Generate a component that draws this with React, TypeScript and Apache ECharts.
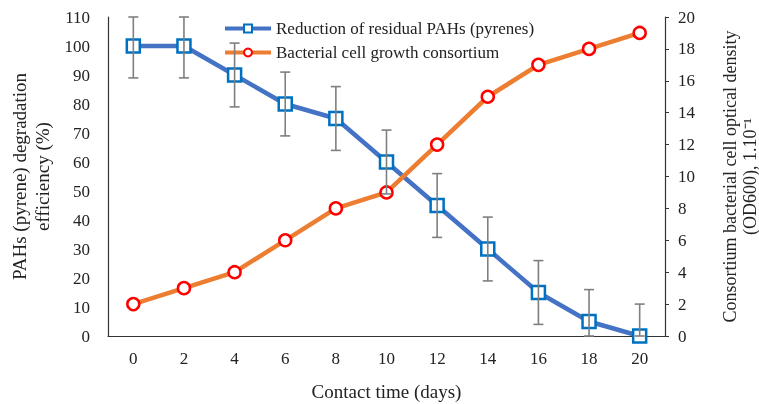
import React, { useEffect, useRef } from "react";
import * as echarts from "echarts";

const days = ["0", "2", "4", "6", "8", "10", "12", "14", "16", "18", "20"];
const residualPAHs = [100, 100, 90, 80, 75, 60, 45, 30, 15, 5, 0];
const pahError = [11, 11, 11, 11, 11, 11, 11, 11, 11, 11, 11];
const cellGrowth = [2, 3, 4, 6, 8, 9, 12, 15, 17, 18, 19];

const FONT = "'Liberation Serif', 'Times New Roman', serif";
const FS = 17;
const NFS = 19;

export default function App() {
  const ref = useRef<HTMLDivElement>(null);
  useEffect(() => {
    if (!ref.current) return;
    const chart = echarts.init(ref.current, undefined, { renderer: "svg" });
    const errData = residualPAHs.map((v, i) => [
      i,
      Math.max(0, v - pahError[i]),
      Math.min(110, v + pahError[i]),
    ]);
    chart.setOption({
      animation: false,
      textStyle: { fontFamily: FONT },
      grid: { left: 108, right: 94, top: 17, bottom: 68, outerBoundsMode: "none", containLabel: false },
      legend: {
        data: ["Reduction of residual PAHs (pyrenes)", "Bacterial cell growth consortium"],
        orient: "vertical",
        left: 223,
        top: 20,
        padding: 0,
        itemWidth: 46,
        itemHeight: 10,
        itemGap: 7,
        lineStyle: { width: 4 },
        textStyle: { fontFamily: FONT, fontSize: FS, color: "#222" },
      },
      xAxis: {
        type: "category",
        data: days,
        boundaryGap: true,
        name: "Contact time (days)",
        nameLocation: "middle",
        nameGap: 46,
        nameTextStyle: { fontFamily: FONT, fontSize: NFS, color: "#222" },
        axisLine: { lineStyle: { color: "#333", width: 1.2 } },
        axisTick: { show: false },
        axisLabel: { fontFamily: FONT, fontSize: FS, color: "#222", margin: 14 },
      },
      yAxis: [
        {
          type: "value",
          min: 0,
          max: 110,
          interval: 10,
          name: "PAHs (pyrene) degradation\nefficiency (%)",
          nameLocation: "middle",
          nameGap: 52,
          nameTextStyle: { fontFamily: FONT, fontSize: NFS, color: "#222", lineHeight: 23 },
          axisLine: { show: true, lineStyle: { color: "#333", width: 1.2 } },
          axisTick: { show: false },
          splitLine: { show: false },
          axisLabel: { fontFamily: FONT, fontSize: FS, color: "#222", margin: 18 },
        },
        {
          type: "value",
          min: 0,
          max: 20,
          interval: 2,
          name: "Consortium bacterial cell optical density\n(OD600), 1.10⁻¹",
          nameLocation: "middle",
          nameGap: 55,
          nameRotate: 90,
          nameTextStyle: { fontFamily: FONT, fontSize: 18, color: "#222", lineHeight: 20 },
          axisLine: { show: true, lineStyle: { color: "#333", width: 1.2 } },
          axisTick: { show: true, length: 4, lineStyle: { color: "#333" } },
          splitLine: { show: false },
          axisLabel: { fontFamily: FONT, fontSize: FS, color: "#222", margin: 13 },
        },
      ],
      series: [
        {
          name: "Reduction of residual PAHs (pyrenes)",
          type: "line",
          yAxisIndex: 0,
          data: residualPAHs,
          symbol: "rect",
          symbolSize: 13,
          lineStyle: { color: "#4472C4", width: 4.5 },
          itemStyle: { color: "#ffffff", borderColor: "#0070C0", borderWidth: 2.5 },
          z: 2,
        },
        {
          name: "Bacterial cell growth consortium",
          type: "line",
          yAxisIndex: 1,
          data: cellGrowth,
          symbol: "circle",
          symbolSize: 12,
          lineStyle: { color: "#ED7D31", width: 4.5 },
          itemStyle: { color: "#ffffff", borderColor: "#FF0000", borderWidth: 2.5 },
          z: 2,
        },
        {
          type: "custom",
          yAxisIndex: 0,
          data: errData,
          z: 5,
          silent: true,
          renderItem: (params: any, api: any) => {
            const x = api.value(0);
            const lo = api.coord([x, api.value(1)]);
            const hi = api.coord([x, api.value(2)]);
            const w = 5;
            const style = { stroke: "#7f7f7f", lineWidth: 1.6 };
            return {
              type: "group",
              children: [
                { type: "line", shape: { x1: hi[0], y1: hi[1], x2: lo[0], y2: lo[1] }, style },
                { type: "line", shape: { x1: hi[0] - w, y1: hi[1], x2: hi[0] + w, y2: hi[1] }, style },
                { type: "line", shape: { x1: lo[0] - w, y1: lo[1], x2: lo[0] + w, y2: lo[1] }, style },
              ],
            };
          },
        },
      ],
    });
    return () => chart.dispose();
  }, []);
  return (
    <div
      ref={ref}
      style={{ position: "fixed", left: 0, top: 0, width: 759, height: 404 }}
    />
  );
}
